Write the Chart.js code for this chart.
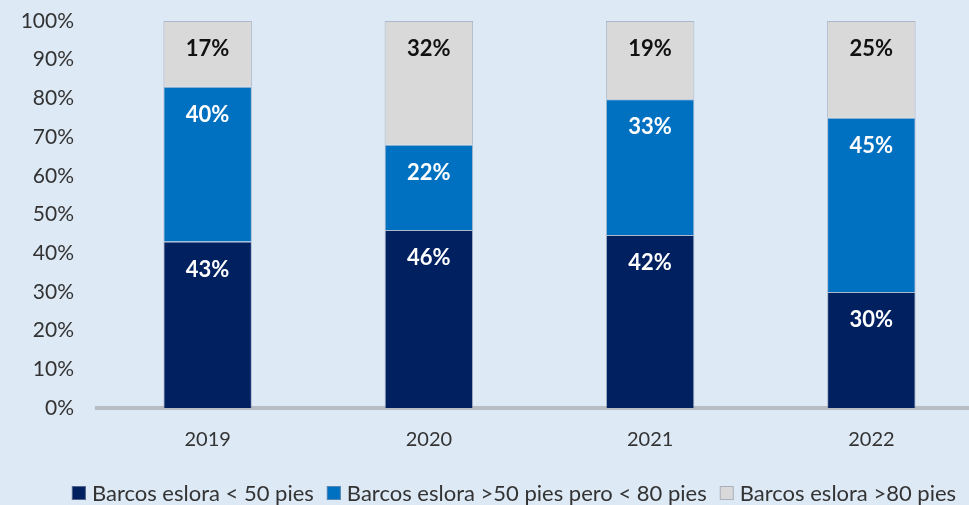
<!DOCTYPE html>
<html><head><meta charset="utf-8">
<script src="https://cdn.jsdelivr.net/npm/chart.js@4/dist/chart.umd.min.js"></script>
<style>
html,body{margin:0;padding:0;background:#dde9f5;overflow:hidden;width:969px;height:505px}
#wrap{position:absolute;left:0;top:0;width:1028px;height:505px}
</style></head>
<body><div id="wrap"><canvas id="c" width="1028" height="505"></canvas></div>
<script>
const categories = ['2019', '2020', '2021', '2022'];
const seriesNames = ['Barcos eslora < 50 pies', 'Barcos eslora >50 pies pero < 80 pies', 'Barcos eslora >80 pies'];
const small = [43, 46, 42, 30];
const medium = [40, 22, 33, 45];
const large = [17, 32, 19, 25];
const yTickValues = [0, 10, 20, 30, 40, 50, 60, 70, 80, 90, 100];

const colors = ['#002060', '#0070c0', '#d9d9d9'];
const labelColors = ['#ffffff', '#ffffff', '#111111'];
const raw = [small, medium, large];
const totals = categories.map((_, i) => small[i] + medium[i] + large[i]);
const FONT = 'Lato, "Open Sans", sans-serif';
const TEXT = '#333333';

const valueLabels = {
  id: 'valueLabels',
  afterDatasetsDraw(chart) {
    const ctx = chart.ctx;
    ctx.save();
    ctx.font = 'bold 22px ' + FONT;
    ctx.textAlign = 'center';
    ctx.textBaseline = 'middle';
    chart.data.datasets.forEach((ds, di) => {
      const meta = chart.getDatasetMeta(di);
      meta.data.forEach((el, i) => {
        ctx.fillStyle = labelColors[di];
        ctx.fillText(raw[di][i] + '%', el.x, el.y + 28);
      });
    });
    ctx.restore();
  }
};

const bottomLegend = {
  id: 'bottomLegend',
  afterDraw(chart) {
    const ctx = chart.ctx;
    ctx.save();
    ctx.font = '22px ' + FONT;
    ctx.textBaseline = 'middle';
    ctx.textAlign = 'left';
    const box = 14, gapText = 6, gapItem = 13;
    const widths = seriesNames.map(n => box + gapText + ctx.measureText(n).width);
    const total = widths.reduce((a, b) => a + b, 0) + gapItem * (seriesNames.length - 1);
    let x = 514 - total / 2;
    const y = 493;
    seriesNames.forEach((n, i) => {
      ctx.fillStyle = colors[i];
      ctx.fillRect(x, y - box / 2, box, box);
      ctx.strokeStyle = 'rgba(140,150,170,0.6)';
      ctx.lineWidth = 1;
      ctx.strokeRect(x + 0.5, y - box / 2 + 0.5, box - 1, box - 1);
      ctx.fillStyle = TEXT;
      ctx.fillText(n, x + box + gapText, y + 1);
      x += widths[i] + gapItem;
    });
    ctx.restore();
  }
};

new Chart(document.getElementById('c'), {
  type: 'bar',
  data: {
    labels: categories,
    datasets: raw.map((arr, di) => ({
      label: seriesNames[di],
      data: arr.map((v, i) => v / totals[i] * 100),
      backgroundColor: colors[di],
      borderColor: 'rgba(130,142,165,0.55)',
      borderWidth: 1,
      categoryPercentage: 1,
      barPercentage: 0.4
    }))
  },
  options: {
    responsive: false,
    devicePixelRatio: 1,
    animation: false,
    layout: { padding: { top: 0, right: 46, left: 0, bottom: 41 } },
    plugins: {
      tooltip: { enabled: false },
      legend: { display: false }
    },
    scales: {
      x: {
        stacked: true,
        grid: { display: false },
        border: { display: true, color: '#b8bdc3', width: 4 },
        ticks: { color: TEXT, font: { family: FONT, size: 20 }, padding: 12 }
      },
      y: {
        stacked: true,
        min: 0, max: 100,
        afterBuildTicks: (s) => { s.ticks = yTickValues.map(v => ({ value: v })); },
        afterFit: (s) => { s.width = 97; s.paddingTop = 21; s.paddingBottom = 0; },
        grid: { display: false },
        border: { display: false },
        ticks: { color: TEXT, font: { family: FONT, size: 21 }, padding: 15, callback: (v) => v + '%' }
      }
    }
  },
  plugins: [valueLabels, bottomLegend]
});
</script>
</body></html>
